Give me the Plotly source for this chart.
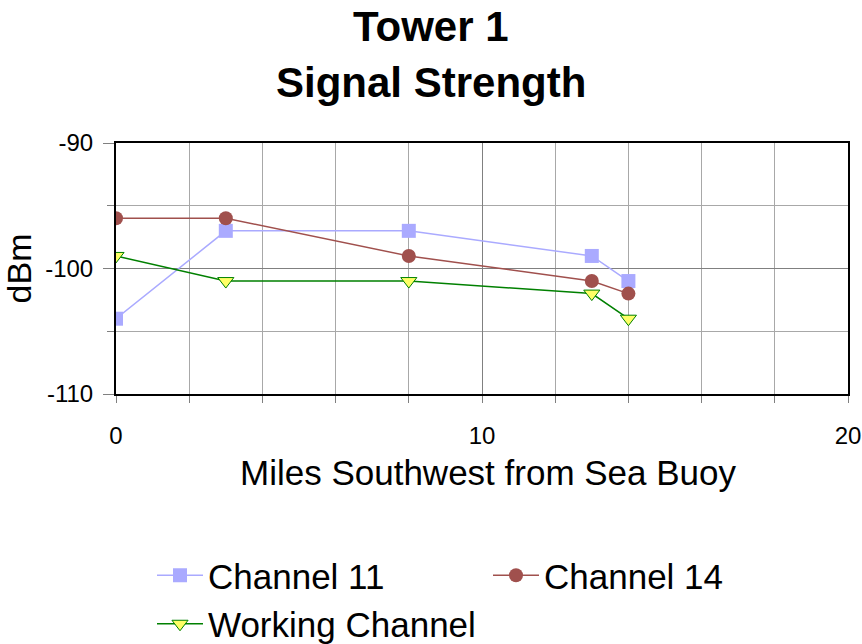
import plotly.graph_objects as go

miles = [0, 3, 8, 13, 14]
channel_11 = [-104, -97, -97, -99, -101]
channel_14 = [-96, -96, -99, -101, -102]
working_channel = [-99, -101, -101, -102, -104]

x_ticks = [0, 10, 20]
x_tick_labels = ["0", "10", "20"]
y_ticks = [-110, -100, -90]
y_tick_labels = ["-110", "-100", "-90"]

FONT = "Arial, Liberation Sans, sans-serif"

fig = go.Figure()
fig.add_trace(go.Scatter(
    x=miles, y=channel_11, name="Channel 11", mode="lines+markers",
    line=dict(color="#AAAAFF", width=1.5),
    marker=dict(symbol="square", size=14, color="#AAAAFF"),
))
fig.add_trace(go.Scatter(
    x=miles, y=channel_14, name="Channel 14", mode="lines+markers",
    line=dict(color="#A0504D", width=1.5),
    marker=dict(symbol="circle", size=14, color="#A0504D"),
))
fig.add_trace(go.Scatter(
    x=miles, y=working_channel, name="Working Channel", mode="lines+markers",
    line=dict(color="#008000", width=1.5),
    marker=dict(symbol="triangle-down", size=14, color="#FFFF66",
                line=dict(color="#008000", width=1)),
))

title_x = (431 - 116) / 732

fig.update_layout(
    width=862, height=644,
    margin=dict(l=116, r=14, t=143, b=250, autoexpand=False),
    paper_bgcolor="white", plot_bgcolor="white",
    font=dict(family=FONT, color="black"),
    showlegend=True,
    legend=dict(
        orientation="h", xref="container", yref="container",
        x=152 / 862, xanchor="left", y=1 - 546 / 644, yanchor="top",
        font=dict(family=FONT, size=35, color="black"),
        entrywidth=275, itemwidth=46,
        bgcolor="rgba(0,0,0,0)",
    ),
    annotations=[
        dict(text="<b>Tower 1</b>", xref="paper", yref="paper",
             x=title_x, y=(394 - 27) / 251, xanchor="center", yanchor="middle",
             showarrow=False, font=dict(family=FONT, size=42, color="black")),
        dict(text="<b>Signal Strength</b>", xref="paper", yref="paper",
             x=title_x, y=(394 - 82) / 251, xanchor="center", yanchor="middle",
             showarrow=False, font=dict(family=FONT, size=42, color="black")),
        dict(text="Miles Southwest from Sea Buoy", xref="paper", yref="paper",
             x=(488 - 116) / 732, y=(394 - 472) / 251,
             xanchor="center", yanchor="middle",
             showarrow=False, font=dict(family=FONT, size=35, color="black")),
    ],
)

fig.update_xaxes(
    range=[0, 20], tickvals=x_ticks, ticktext=x_tick_labels,
    automargin=False,
    showline=True, linecolor="black", linewidth=2, mirror=True,
    showgrid=True, gridcolor="#808080", gridwidth=1,
    ticks="outside", ticklen=7, tickcolor="#808080",
    tickfont=dict(family=FONT, size=24, color="black"),
    ticklabelstandoff=12,
    minor=dict(dtick=2, showgrid=True, gridcolor="#A8A8A8", gridwidth=1,
               ticks="outside", ticklen=7, tickcolor="#808080"),
    zeroline=False,
)
fig.update_yaxes(
    range=[-110, -90], tickvals=y_ticks, ticktext=y_tick_labels,
    automargin=False,
    showline=True, linecolor="black", linewidth=2, mirror=True,
    showgrid=True, gridcolor="#808080", gridwidth=1,
    ticks="outside", ticklen=11, tickcolor="#808080",
    tickfont=dict(family=FONT, size=24, color="black"),
    ticklabelstandoff=5,
    minor=dict(dtick=5, showgrid=True, gridcolor="#A8A8A8", gridwidth=1,
               ticks="outside", ticklen=7, tickcolor="#808080"),
    title=dict(text="dBm", font=dict(family=FONT, size=34, color="black"),
               standoff=3),
    zeroline=False,
)

fig.write_html("out.html")
